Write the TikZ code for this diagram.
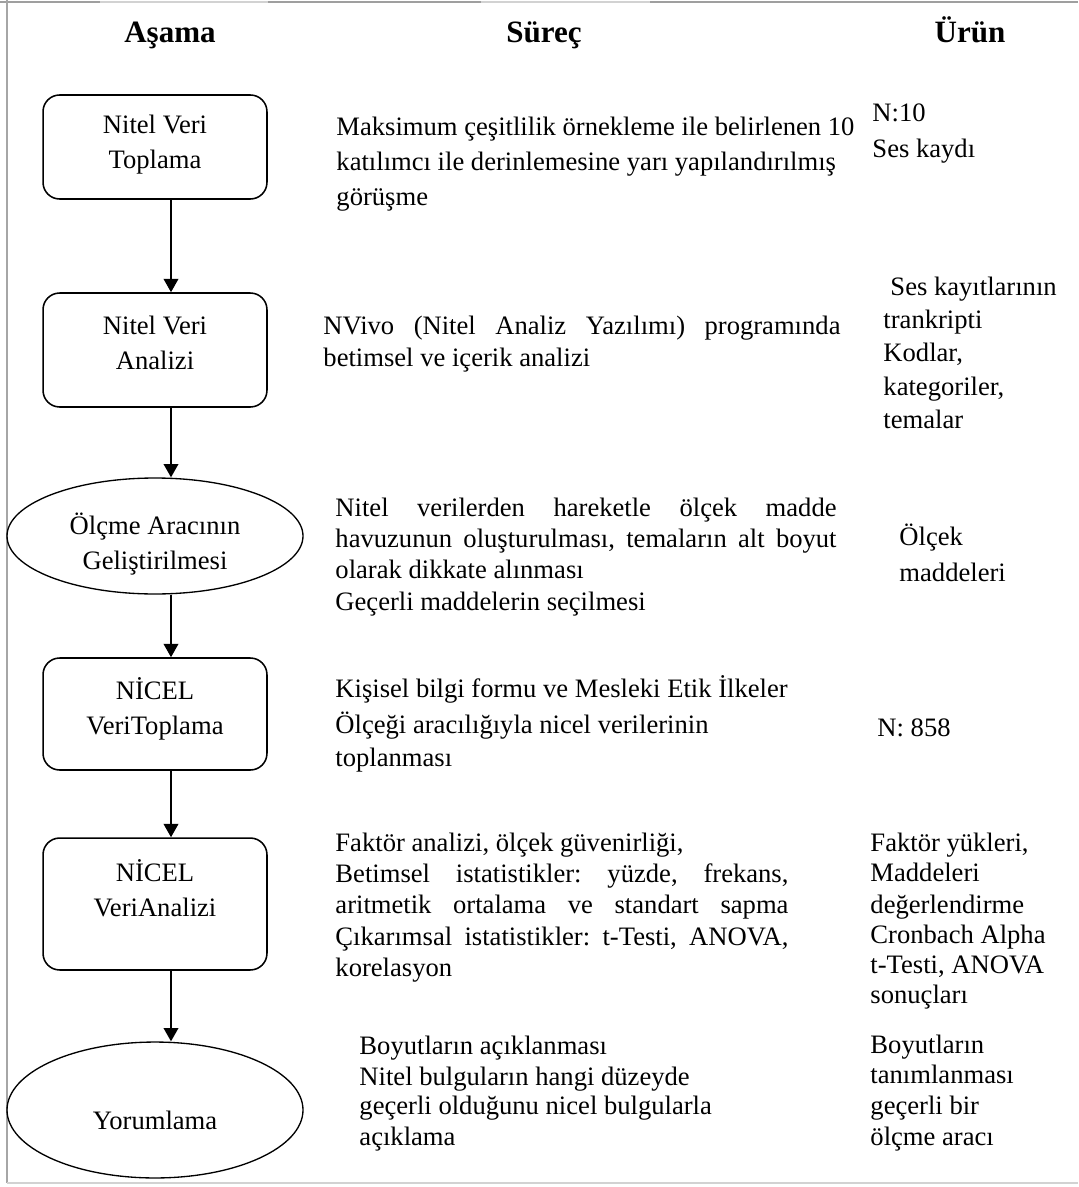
\documentclass[tikz,border=0pt]{standalone}
\usepackage{fontspec}
\setmainfont{Liberation Serif}
\usetikzlibrary{shapes.geometric,arrows.meta}
\frenchspacing
\begin{document}
\begin{tikzpicture}[x=0.451pt,y=-0.451pt,
  rbox/.style={draw=black,line width=0.7pt,rounded corners=7.5pt,minimum width=101pt,inner sep=0pt},
  ell/.style={draw=black,line width=0.6pt,ellipse,minimum width=133.5pt,inner sep=0pt},
  lbl/.style={align=center,font=\fontsize{12}{15.8}\selectfont,inner sep=0pt},
  ln/.style={anchor=base west,inner sep=0pt,font=\fontsize{12}{14}\selectfont},
  hd/.style={anchor=base,font=\fontsize{14}{16}\selectfont\bfseries,inner sep=0pt},
  arr/.style={line width=1pt,-{Triangle[width=6.5pt,length=6pt]}}]
\useasboundingbox (0,0) rectangle (1078,1187);
% frame
\draw[gray!35,line width=0.7pt] (0,2) -- (1078,2);
\draw[gray!75,line width=0.7pt] (0,2) -- (100,2) (268,2) -- (481,2) (650,2) -- (1078,2);
\draw[gray!70,line width=0.7pt] (7,0) -- (7,1183);
\draw[gray!35,line width=0.7pt] (7,1183) -- (1078,1183);
% headers
\node[hd] (h1) at (170,43) {Aşama};
\node[hd] (h2) at (544,43) {Süreç};
\node[hd] (h3) at (970,43) {Ürün};
% left column shapes
\coordinate (ax) at (171,0);
\node[rbox,minimum height=46.9pt] (b1) at (155,147) {};
\node[lbl] (b1t) at (155,145) {Nitel Veri\\Toplama};
\node[rbox,minimum height=51.4pt] (b2) at (155,350) {};
\node[lbl] (b2t) at (155,343) {Nitel Veri\\Analizi};
\node[ell,minimum height=52.3pt] (e1) at (155,536) {};
\node[lbl] (e1t) at (155,544) {Ölçme Aracının\\Geliştirilmesi};
\node[rbox,minimum height=50.5pt] (b3) at (155,714) {};
\node[lbl] (b3t) at (155,709) {NİCEL\\VeriToplama};
\node[rbox,minimum height=59.5pt] (b4) at (155,904) {};
\node[lbl] (b4t) at (155,888) {NİCEL\\VeriAnalizi};
\node[ell,minimum height=61.3pt] (e2) at (155,1110) {};
\node[lbl] (e2t) at (155,1120) {Yorumlama};
% arrows
\draw[arr] (b1.south -| ax) -- (b2.north -| ax);
\draw[arr] (b2.south -| ax) -- (e1.north -| ax);
\draw[arr] (e1.south -| ax) -- (b3.north -| ax);
\draw[arr] (b3.south -| ax) -- (b4.north -| ax);
\draw[arr] (b4.south -| ax) -- (e2.north -| ax);
% row 1
\node[ln] (s1a) at (336,136) {Maksimum çeşitlilik örnekleme ile belirlenen 10};
\node[ln] (s1b) at (336,171) {katılımcı ile derinlemesine yarı yapılandırılmış};
\node[ln] (s1c) at (336,206) {görüşme};
\node[ln] (u1a) at (872,122) {N:10};
\node[ln] (u1b) at (872,158) {Ses kaydı};
% row 2
\node[ln] (s2a) at (323,334) {\makebox[233.2pt][s]{NVivo (Nitel Analiz Yazılımı) programında}};
\node[ln] (s2b) at (323,366) {betimsel ve içerik analizi};
\node[ln] (u2a) at (890,295) {Ses kayıtlarının};
\node[ln] (u2b) at (883,328) {trankripti};
\node[ln] (u2c) at (883,361) {Kodlar,};
\node[ln] (u2d) at (883,395) {kategoriler,};
\node[ln] (u2e) at (883,428) {temalar};
% row 3
\node[ln] (s3a) at (335,516) {\makebox[226pt][s]{Nitel verilerden hareketle ölçek madde}};
\node[ln] (s3b) at (335,547) {\makebox[226pt][s]{havuzunun  oluşturulması, temaların alt boyut}};
\node[ln] (s3c) at (335,578) {olarak dikkate alınması};
\node[ln] (s3d) at (335,610) {Geçerli maddelerin seçilmesi};
\node[ln] (u3a) at (899,545) {Ölçek};
\node[ln] (u3b) at (899,581) {maddeleri};
% row 4
\node[ln] (s4a) at (335,697) {Kişisel bilgi formu ve Mesleki Etik İlkeler};
\node[ln] (s4b) at (335,733) {Ölçeği aracılığıyla nicel verilerinin};
\node[ln] (s4c) at (335,766) {toplanması};
\node[ln] (u4a) at (877,736) {N: 858};
% row 5
\node[ln] (s5a) at (335,851) {Faktör analizi, ölçek güvenirliği,};
\node[ln] (s5b) at (335,882) {\makebox[204.3pt][s]{Betimsel istatistikler: yüzde, frekans,}};
\node[ln] (s5c) at (335,913) {\makebox[204.3pt][s]{aritmetik ortalama ve standart sapma}};
\node[ln] (s5d) at (335,945) {\makebox[204.3pt][s]{Çıkarımsal istatistikler: t-Testi, ANOVA,}};
\node[ln] (s5e) at (335,976) {korelasyon};
\node[ln] (u5a) at (870,851) {Faktör yükleri,};
\node[ln] (u5b) at (870,881) {Maddeleri};
\node[ln] (u5c) at (870,913) {değerlendirme};
\node[ln] (u5d) at (870,943) {Cronbach Alpha};
\node[ln] (u5e) at (870,973) {t-Testi, ANOVA};
\node[ln] (u5f) at (870,1003) {sonuçları};
% row 6
\node[ln] (s6a) at (359,1054) {Boyutların açıklanması};
\node[ln] (s6b) at (359,1085) {Nitel bulguların hangi düzeyde};
\node[ln] (s6c) at (359,1114) {geçerli olduğunu nicel bulgularla};
\node[ln] (s6d) at (359,1145) {açıklama};
\node[ln] (u6a) at (870,1053) {Boyutların};
\node[ln] (u6b) at (870,1083) {tanımlanması};
\node[ln] (u6c) at (870,1114) {geçerli bir};
\node[ln] (u6d) at (870,1145) {ölçme aracı};
\end{tikzpicture}
\end{document}
